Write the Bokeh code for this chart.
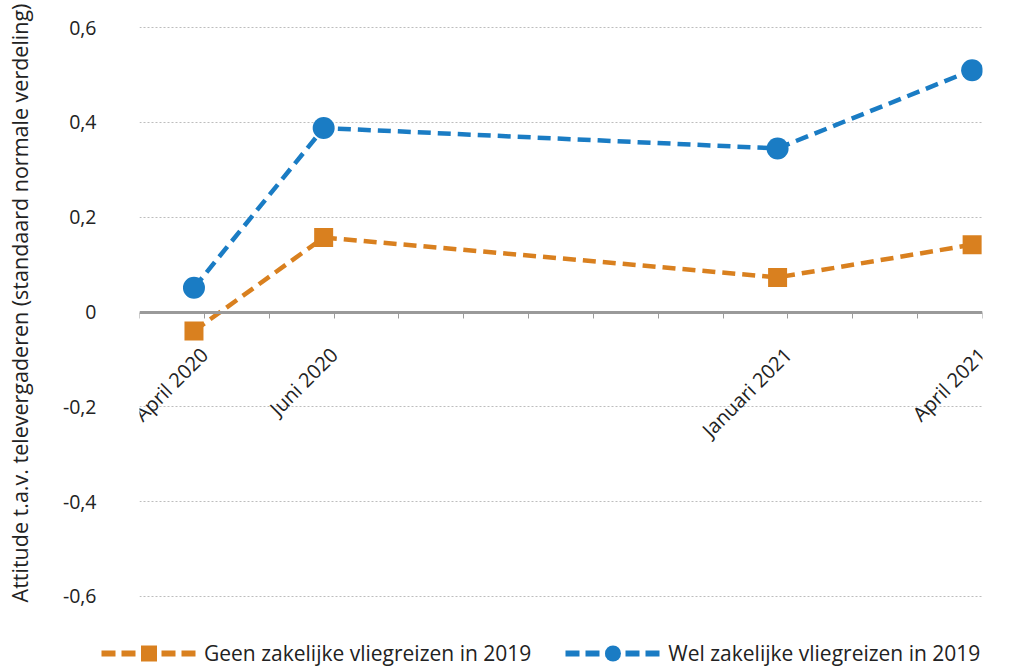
import math
from bokeh.plotting import figure
from bokeh.layouts import column
from bokeh.models import Range1d, FixedTicker, Legend, LegendItem
from bokeh.embed import file_html
from bokeh.resources import INLINE

# ---- data ----
month_labels = ["April 2020", "Juni 2020", "Januari 2021", "April 2021"]
month_index = [1, 3, 10, 13]          # months since March 2020
geen = [-0.04, 0.157, 0.073, 0.142]   # Geen zakelijke vliegreizen in 2019
wel = [0.051, 0.388, 0.345, 0.510]    # Wel zakelijke vliegreizen in 2019
series_names = ["Geen zakelijke vliegreizen in 2019", "Wel zakelijke vliegreizen in 2019"]
y_ticks = [-0.6, -0.4, -0.2, 0, 0.2, 0.4, 0.6]
y_tick_labels = ["-0,6", "-0,4", "-0,2", "0", "0,2", "0,4", "0,6"]
month_ticks = list(range(0, 14))
y_title = "Attitude t.a.v. televergaderen (standaard normale verdeling)"

# ---- style ----
ORANGE = "#D9801F"
BLUE = "#1A7CC4"
TEXT = "#222222"
FONT = "Open Sans"
POINT_SHIFT = -0.16
DASH = "13 7"

x_pts = [m + POINT_SHIFT for m in month_index]

p = figure(width=1015, height=612, output_backend="svg", toolbar_location=None,
           x_range=Range1d(0, 13), y_range=Range1d(-0.619, 0.657),
           min_border_left=139, min_border_right=33, min_border_top=0,
           min_border_bottom=7)
p.frame_align = False
p.outline_line_color = None
p.background_fill_color = "white"
p.border_fill_color = "white"

# grid
p.xgrid.visible = False
p.ygrid.ticker = FixedTicker(ticks=[t for t in y_ticks if t != 0])
p.ygrid.grid_line_color = "#bdbdbd"
p.ygrid.grid_line_dash = "2 2"
p.ygrid.grid_line_width = 1

# x axis at y = 0
xa = p.xaxis[0]
xa.fixed_location = 0
xa.ticker = FixedTicker(ticks=month_ticks)
overrides = {t: "" for t in month_ticks}
for m, lab in zip(month_index, month_labels):
    overrides[m] = lab
xa.major_label_overrides = overrides
xa.major_label_orientation = math.pi / 4
xa.axis_line_color = "#9a9a9a"
xa.axis_line_width = 3
xa.major_tick_line_color = "#9a9a9a"
xa.major_tick_line_width = 1
xa.major_tick_in = 0
xa.major_tick_out = 6
xa.minor_tick_line_color = None
xa.major_label_text_font = FONT
xa.major_label_text_font_size = "20px"
xa.major_label_text_color = TEXT
xa.major_label_standoff = 33

# y axis
ya = p.yaxis[0]
ya.ticker = FixedTicker(ticks=y_ticks)
ya.major_label_overrides = {t: l for t, l in zip(y_ticks, y_tick_labels)}
ya.axis_line_color = None
ya.major_tick_line_color = None
ya.minor_tick_line_color = None
ya.major_label_text_font = FONT
ya.major_label_text_font_size = "19.5px"
ya.major_label_text_color = TEXT
ya.major_label_standoff = 37
ya.axis_label = y_title
ya.axis_label_text_font = FONT
ya.axis_label_text_font_size = "21.5px"
ya.axis_label_text_font_style = "normal"
ya.axis_label_text_color = TEXT
ya.axis_label_standoff = 26

# series
p.line(x_pts, geen, line_color=ORANGE, line_width=4.5, line_dash=DASH)
p.scatter(x_pts, geen, marker="square", size=19, fill_color=ORANGE, line_color=None)
p.line(x_pts, wel, line_color=BLUE, line_width=4.5, line_dash=DASH)
p.scatter(x_pts, wel, marker="circle", size=22, fill_color=BLUE, line_color=None)

# ---- legend strip below the chart ----
lg = figure(width=1015, height=54, output_backend="svg", toolbar_location=None,
            x_range=Range1d(-100, -99), y_range=Range1d(-100, -99),
            x_axis_location=None, y_axis_location=None,
            min_border_left=0, min_border_right=0, min_border_top=0,
            min_border_bottom=0)
lg.frame_align = False
lg.outline_line_color = None
lg.xgrid.visible = False
lg.ygrid.visible = False
lg.background_fill_color = "white"
lg.border_fill_color = "white"

gl1 = lg.line(x_pts, geen, line_color=ORANGE, line_width=6, line_dash="14 6")
gs1 = lg.scatter(x_pts, geen, marker="square", size=19, fill_color=ORANGE, line_color=None)
gl2 = lg.line(x_pts, wel, line_color=BLUE, line_width=6, line_dash="14 6")
gs2 = lg.scatter(x_pts, wel, marker="circle", size=22, fill_color=BLUE, line_color=None)

legend = Legend(items=[LegendItem(label=series_names[0], renderers=[gl1, gs1]),
                       LegendItem(label=series_names[1], renderers=[gl2, gs2])],
                location=(101, -7), orientation="horizontal",
                glyph_width=95, glyph_height=40, label_standoff=8, spacing=34,
                padding=0, margin=0, border_line_color=None,
                background_fill_alpha=0,
                label_text_font=FONT, label_text_font_size="21px",
                label_text_color=TEXT)
lg.add_layout(legend)

layout = column(p, lg, spacing=0)
open("out.html", "w").write(file_html(layout, INLINE))
